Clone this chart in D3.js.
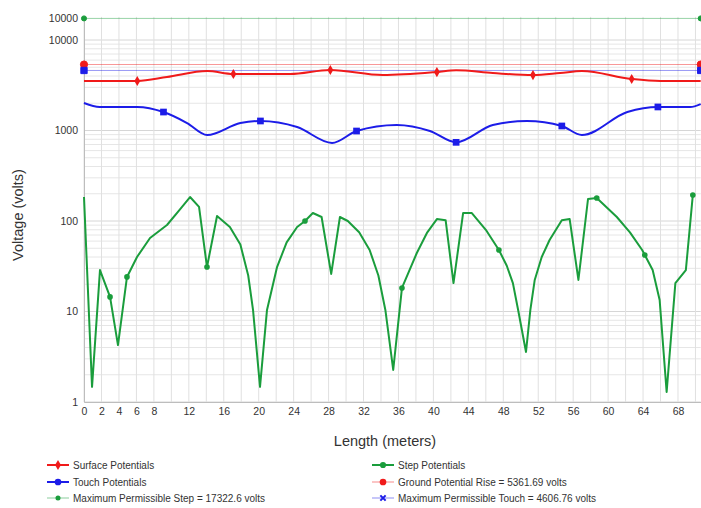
<!DOCTYPE html>
<html><head><meta charset="utf-8">
<script src="https://cdn.jsdelivr.net/npm/d3@7"></script>
<style>
html,body{margin:0;padding:0;background:#fff;}
svg{display:block;font-family:"Liberation Sans",Arial,sans-serif;}
</style></head>
<body>
<svg id="chart" width="701" height="508"></svg>
<script>
// ---- data (length in meters, voltage in volts) ----
const surfaceX = [0, 6.1, 9.5, 14.1, 17.1, 23.6, 28.2, 34.2, 40.4, 42.6, 46.8, 51.4, 54.5, 57.0, 62.7, 66.0, 70.6];
const surfaceV = [3524, 3524, 3900, 4540, 4210, 4210, 4660, 4100, 4425, 4620, 4315, 4100, 4315, 4540, 3706, 3524, 3524];
const surfaceMarks = [6.1, 17.1, 28.2, 40.4, 51.4, 62.7];

const touchX = [0, 1.8, 6.1, 9.1, 11.8, 14.1, 17.9, 20.2, 24.4, 28.4, 31.2, 35.8, 39.6, 42.6, 46.8, 50.7, 54.7, 57.0, 62.2, 65.7, 69.4, 70.6];
const touchV = [2014, 1820, 1820, 1600, 1210, 892, 1210, 1274, 1093, 728, 987, 1150, 987, 740, 1150, 1274, 1122, 892, 1600, 1820, 1820, 1960];
const touchMarks = [9.1, 20.2, 31.2, 42.6, 54.7, 65.7];

const stepX = [0, 0.92, 1.83, 2.98, 3.89, 4.92, 6.07, 7.56, 9.5, 10.8, 12.14, 13.17, 14.08, 15.23, 16.7, 17.9, 18.8, 19.35, 20.15, 20.95, 22.1, 23.2, 24.4, 25.3, 26.2, 27.2, 28.3, 29.3, 30.2, 31.5, 32.7, 33.7, 34.5, 35.4, 36.4, 38.1, 39.3, 40.4, 41.4, 42.3, 43.4, 44.4, 46.0, 47.5, 48.4, 49.1, 49.7, 50.6, 51.1, 51.6, 52.4, 53.3, 54.7, 55.6, 56.6, 57.7, 58.7, 61.0, 62.5, 63.9, 64.2, 65.1, 65.9, 66.7, 67.7, 68.9, 69.7];
const stepV = [184, 1.47, 28.7, 14.5, 4.26, 24.1, 40, 64.9, 90.3, 128, 184, 143, 31, 113.6, 85.9, 55, 25, 10.4, 1.47, 10.4, 31, 58, 85.9, 100, 122.5, 110.7, 26, 110.7, 100, 75, 47.8, 25, 10.4, 2.26, 18.2, 44.3, 75, 105, 102, 20.6, 122.5, 122.5, 80, 47.8, 32, 20.6, 10.4, 3.57, 10.4, 22.3, 40, 61.7, 102, 105, 22.3, 175, 179.5, 110.7, 75, 47.8, 42.1, 28.7, 13.4, 1.29, 20.6, 28.7, 194];
const stepMarks = [2.98, 4.92, 14.08, 25.3, 36.4, 47.5, 58.7, 64.2, 69.7];

const gpr = 5361.69;
const maxTouch = 4606.76;
const maxStep = 17322.6;

const xTickValues = [0, 2, 4, 6, 8, 12, 16, 20, 24, 28, 32, 36, 40, 44, 48, 52, 56, 60, 64, 68];
const xGridValues = d3.range(0, 71, 2);
const yTickValues = [1, 10, 100, 1000, 10000, 17322.6];
const yTickLabels = ["1", "10", "100", "1000", "10000", "10000"];

const legendLeft = ["Surface Potentials", "Touch Potentials", "Maximum Permissible Step = 17322.6 volts"];
const legendRight = ["Step Potentials", "Ground Potential Rise = 5361.69 volts", "Maximum Permissible Touch = 4606.76 volts"];

// ---- drawing ----
const svg = d3.select("#chart");
const RED = "#f01a1a", BLUE = "#1c1ce8", GREEN = "#1a9d3c";
const x = d3.scaleLinear().domain([0, 70.6]).range([84, 700.7]);
const y = d3.scaleLog().domain([1, 18000]).range([402, 16.9]);
const [x0, x1] = x.range(), [y0, y1] = y.range();

// grid
const minorY = [];
for (let d = 1; d < 18000; d *= 10) for (let k = 1; k <= 9; k++) { const v = d * k; if (v <= 18000) minorY.push(v); }
svg.append("g").selectAll("line").data(minorY).join("line")
  .attr("x1", x0).attr("x2", x1).attr("y1", d => y(d)).attr("y2", d => y(d))
  .attr("stroke", d => (Math.log10(d) % 1 === 0) ? "#d6d6d6" : "#e6e6e6").attr("stroke-width", 1);
svg.append("g").selectAll("line").data(xGridValues).join("line")
  .attr("x1", d => x(d)).attr("x2", d => x(d)).attr("y1", y1).attr("y2", y0)
  .attr("stroke", "#e0e0e0").attr("stroke-width", 1);

// axes
const xAxis = d3.axisBottom(x).tickValues(xTickValues).tickSize(0).tickPadding(6).tickFormat(d3.format("d"));
const gx = svg.append("g").attr("transform", `translate(0,${y0})`).call(xAxis);
gx.select(".domain").attr("stroke", "#bdbdbd");
gx.selectAll("text").attr("fill", "#333").attr("font-size", 10.5);
const yAxis = d3.axisLeft(y).tickValues(yTickValues).tickSize(0).tickPadding(6)
  .tickFormat((d, i) => yTickLabels[i]);
const gy = svg.append("g").attr("transform", `translate(${x0},0)`).call(yAxis);
gy.select(".domain").attr("stroke", "#bdbdbd");
gy.selectAll("text").attr("fill", "#333").attr("font-size", 10.5);

// titles
svg.append("text").attr("x", 385).attr("y", 446).attr("text-anchor", "middle")
  .attr("font-size", 14.5).attr("fill", "#333").text("Length (meters)");
svg.append("text").attr("transform", "translate(23,215) rotate(-90)").attr("text-anchor", "middle")
  .attr("font-size", 14.5).attr("fill", "#333").text("Voltage (volts)");

// reference lines
function refLine(v, color, sym, size) {
  svg.append("line").attr("x1", x0).attr("x2", x1).attr("y1", y(v)).attr("y2", y(v))
    .attr("stroke", color).attr("stroke-opacity", 0.45).attr("stroke-width", 1);
  svg.append("g").selectAll("path").data([0, 70.6]).join("path")
    .attr("transform", d => `translate(${x(d)},${y(v)})`)
    .attr("d", d3.symbol().type(sym).size(size)).attr("fill", color).attr("stroke", color);
}
refLine(maxStep, GREEN, d3.symbolCircle, 20);
refLine(gpr, RED, d3.symbolCircle, 40);
refLine(maxTouch, BLUE, d3.symbolSquare, 40);

// series
function series(xs, vs, marks, color, curve, sym, size) {
  const pts = xs.map((d, i) => [d, vs[i]]);
  svg.append("path").datum(pts)
    .attr("d", d3.line().x(d => x(d[0])).y(d => y(d[1])).curve(curve))
    .attr("fill", "none").attr("stroke", color).attr("stroke-width", 2).attr("stroke-linejoin", "round");
  svg.append("g").selectAll("path").data(pts.filter(p => marks.includes(p[0]))).join("path")
    .attr("transform", d => `translate(${x(d[0])},${y(d[1])})`)
    .attr("d", d3.symbol().type(sym).size(size)).attr("fill", color);
}
series(surfaceX, surfaceV, surfaceMarks, RED, d3.curveMonotoneX, d3.symbolDiamond, 30);
series(touchX, touchV, touchMarks, BLUE, d3.curveMonotoneX, d3.symbolSquare, 45);
series(stepX, stepV, stepMarks, GREEN, d3.curveLinear, d3.symbolCircle, 25);

// legend
function legendItem(lx, ly, label, color, sym, size, faint, stroked) {
  const g = svg.append("g").attr("transform", `translate(${lx},${ly})`);
  g.append("line").attr("x1", 0).attr("x2", 22).attr("stroke", color)
    .attr("stroke-width", faint ? 1 : 2).attr("stroke-opacity", faint ? 0.5 : 1);
  const m = g.append("path").attr("transform", "translate(11,0)").attr("d", d3.symbol().type(sym).size(size));
  if (stroked) m.attr("fill", "none").attr("stroke", color).attr("stroke-width", 2);
  else m.attr("fill", color);
  g.append("text").attr("x", 26).attr("y", 3.5).attr("font-size", 10).attr("fill", "#333").text(label);
}
legendItem(47, 465, legendLeft[0], RED, d3.symbolDiamond, 30, false, false);
legendItem(47, 482, legendLeft[1], BLUE, d3.symbolCircle, 35, false, false);
legendItem(47, 498, legendLeft[2], GREEN, d3.symbolCircle, 20, true, false);
legendItem(372, 465, legendRight[0], GREEN, d3.symbolCircle, 30, false, false);
legendItem(372, 482, legendRight[1], RED, d3.symbolCircle, 35, true, false);
legendItem(372, 498, legendRight[2], BLUE, d3.symbolX, 20, true, true);
</script>
</body></html>
